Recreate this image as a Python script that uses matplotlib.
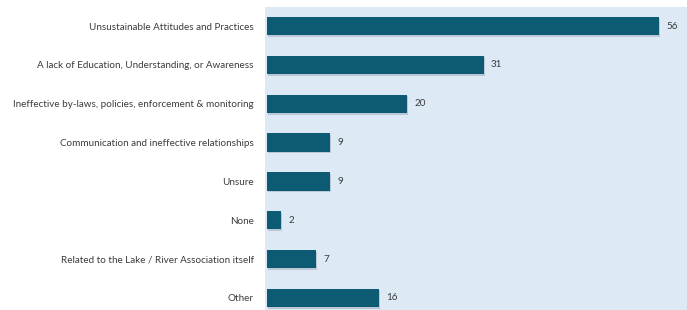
import matplotlib
matplotlib.use("Agg")
import matplotlib.pyplot as plt
import matplotlib.patheffects as pe

# data
categories = [
    "Unsustainable Attitudes and Practices",
    "A lack of Education, Understanding, or Awareness",
    "Ineffective by-laws, policies, enforcement & monitoring",
    "Communication and ineffective relationships",
    "Unsure",
    "None",
    "Related to the Lake / River Association itself",
    "Other",
]
counts = [56, 31, 20, 9, 9, 2, 7, 16]

bar_color = "#0d5a73"
bg_color = "#dde9f5"
text_color = "#3c3c3c"

plt.rcParams["font.family"] = ["Lato", "DejaVu Sans"]

fig = plt.figure(figsize=(6.87, 3.10), dpi=100)
ax = fig.add_axes([265 / 687, 0, 1 - 265 / 687, 303 / 310])
ax.set_facecolor(bg_color)

pos = list(range(len(categories)))
bars = ax.barh(pos, counts, height=0.47, color=bar_color, zorder=3)
for b in bars:
    b.set_path_effects([pe.SimplePatchShadow(offset=(1.0, -1.2), shadow_rgbFace="#8a96a3", alpha=0.4), pe.Normal()])

for y, v in zip(pos, counts):
    ax.text(v + 1.0, y, str(v), va="center", ha="left", fontsize=7.1, color=text_color)

ax.set_yticks(pos)
ax.set_yticklabels(categories, fontsize=7.1, color=text_color)
ax.tick_params(axis="y", length=0, pad=8)
ax.set_xticks([])
ax.set_xlim(-0.3, 60)
ax.set_ylim(7.31, -0.49)
for s in ax.spines.values():
    s.set_visible(False)

fig.savefig("out.png", dpi=100, facecolor="white")
